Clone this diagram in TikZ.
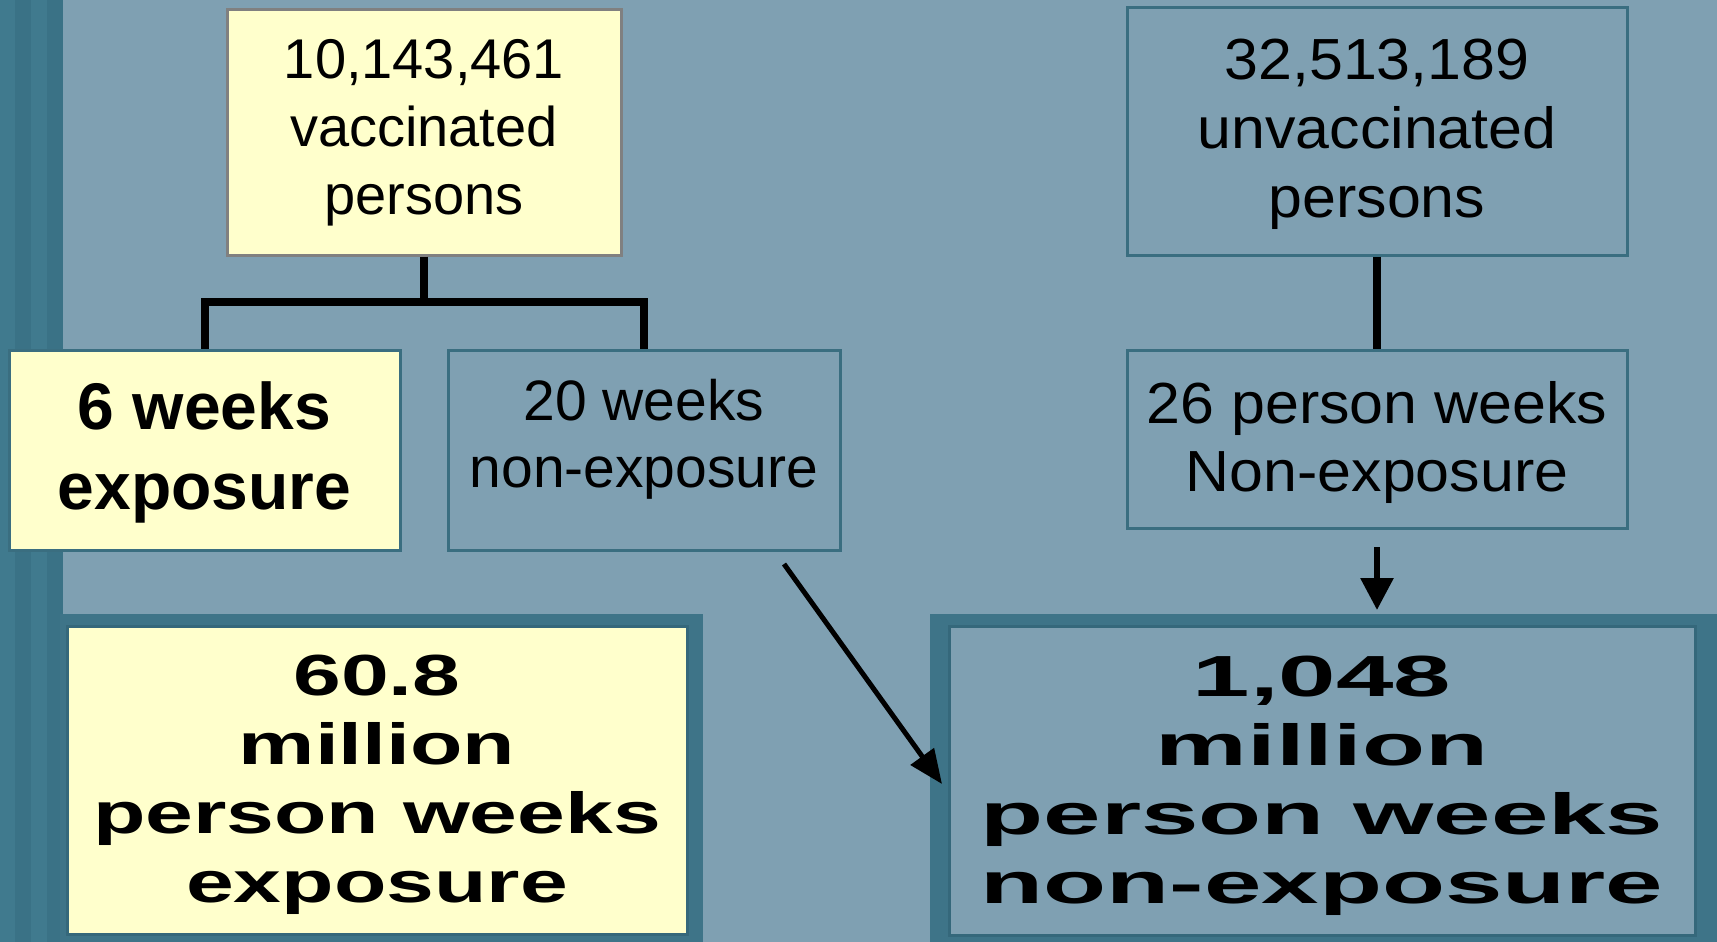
\documentclass[tikz,border=0pt]{standalone}
\usepackage{fontspec}
\setmainfont{Liberation Sans}
\newfontfamily\wideR[FakeStretch=1.05]{Liberation Sans}
\newfontfamily\wideG[FakeStretch=1.48]{Liberation Sans}
\newfontfamily\wideF[FakeStretch=1.78]{Liberation Sans}
\usetikzlibrary{arrows.meta}
\definecolor{bg}{RGB}{127,160,178}
\definecolor{stripeA}{RGB}{64,122,142}
\definecolor{stripeB}{RGB}{58,114,134}
\definecolor{boxline}{RGB}{58,110,128}
\definecolor{band}{RGB}{62,116,136}
\definecolor{innerline}{RGB}{53,104,123}
\definecolor{pale}{RGB}{255,255,204}
\definecolor{greyline}{RGB}{128,128,128}
\begin{document}
\begin{tikzpicture}[x=1pt,y=-1pt,
  box/.style={draw=boxline, line width=3pt, inner sep=0pt},
  bigbox/.style={draw=innerline, line width=3pt, inner sep=0pt},
  txt/.style={inner sep=0pt, align=center},
  conn/.style={line width=8pt, black, line join=miter},
  arr/.style={line width=6pt, black, -{Triangle[length=32pt,width=32pt]}}]
\useasboundingbox (0,0) rectangle (1717,942);
% background and left stripes
\fill[bg] (0,0) rectangle (1717,942);
\fill[stripeA] (0,0) rectangle (15,942);
\fill[stripeB] (15,0) rectangle (31,942);
\fill[stripeA] (31,0) rectangle (47,942);
\fill[stripeB] (47,0) rectangle (63,942);
% thick bands around the result boxes
\fill[band] (60,614) rectangle (703,942);
\fill[band] (930,614) rectangle (1717,942);
% boxes
\node[box, draw=greyline, fill=pale, minimum width=394pt, minimum height=245pt] (A) at (424,132.5) {};
\node[box, fill=pale, minimum width=391pt, minimum height=200pt] (B) at (204.5,450) {};
\node[box, minimum width=392pt, minimum height=200pt] (C) at (644,450) {};
\node[box, minimum width=500pt, minimum height=247pt] (D) at (1377,131.5) {};
\node[box, minimum width=500pt, minimum height=178pt] (E) at (1377,439) {};
\node[bigbox, fill=pale, minimum width=620pt, minimum height=308pt] (G) at (377,780) {};
\node[bigbox, fill=bg, minimum width=746pt, minimum height=309pt] (F) at (1322,780.5) {};
% texts
\node[txt, font=\fontsize{56}{68}\selectfont] (At) at (A.center)
      {10,143,461\\vaccinated\\persons};
\node[txt, font=\bfseries\fontsize{66}{80}\selectfont] (Bt) at ([yshift=-2pt]B.center)
      {6 weeks\\exposure};
\node[txt, font=\fontsize{57}{67}\selectfont] (Ct) at ([yshift=11pt]C.center)
      {20 weeks\\non-exposure};
\node[txt, font=\wideR\fontsize{58}{69}\selectfont] (Dt) at ([yshift=-3pt]D.center)
      {32,513,189\\unvaccinated\\persons};
\node[txt, font=\wideR\fontsize{58}{68}\selectfont] (Et) at ([yshift=-3pt]E.center)
      {26 person weeks\\Non-exposure};
\node[txt, font=\wideG\bfseries\fontsize{58}{69}\selectfont] (Gt) at ([yshift=-5pt]G.center)
      {60.8\\million\\person weeks\\exposure};
\node[txt, font=\wideF\bfseries\fontsize{58}{69}\selectfont] (Ft) at ([yshift=-5pt]F.center)
      {1,048\\million\\person weeks\\non-exposure};
% connectors
\coordinate (jA) at (424,302);
\draw[conn] (A.south) -- (jA);
\draw[conn] (B.north) |- (jA) -| (C.north);
\draw[conn] (D.south) -- (E.north);
\coordinate (e1) at (1377,547);
\coordinate (e2) at (1377,610);
\draw[arr] (e1) -- (e2);
\coordinate (c1) at (784,564);
\coordinate (c2) at (942,784);
\draw[arr, -{Triangle[length=34pt,width=28pt]}, line width=5pt] (c1) -- (c2);
\end{tikzpicture}
\end{document}
